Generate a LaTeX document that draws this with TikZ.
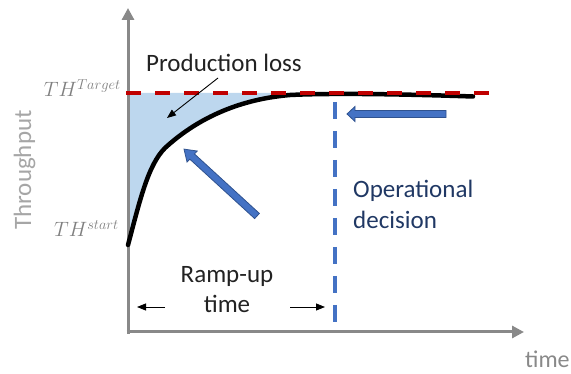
\documentclass[tikz,border=0pt]{standalone}
\usepackage{fontspec}
\setmainfont{Carlito}
\usetikzlibrary{arrows.meta}

\definecolor{axisgray}{HTML}{898989}
\definecolor{labelgray}{HTML}{A6A6A6}
\definecolor{mathgray}{HTML}{808080}
\definecolor{targetred}{HTML}{C00000}
\definecolor{lossfill}{HTML}{BDD7EE}
\definecolor{accentblue}{HTML}{4472C4}
\definecolor{edgeblue}{HTML}{2F528F}
\definecolor{navytext}{HTML}{203864}
\definecolor{inktext}{HTML}{222222}

\tikzset{
  axisline/.style={draw=axisgray, line width=3pt, -{Triangle[width=12pt,length=12pt]}},
  txt/.style={inner sep=0pt, font=\fontsize{25}{30}\selectfont},
  mathlabel/.style={inner sep=0pt, text=mathgray, font=\fontsize{22}{26}\selectfont, anchor=base east},
  thinarrow/.style={draw=black, line width=0.9pt, -{Triangle[width=7pt,length=9pt]}},
  blockarrow/.style={fill=accentblue, draw=edgeblue, line width=0.8pt, line join=miter},
  throughputcurve/.style={draw=black, line width=4.5pt, line cap=round},
  targetline/.style={draw=targetred, line width=4pt, dash pattern=on 15pt off 14pt},
  decisionline/.style={draw=accentblue, line width=3.5pt, dash pattern=on 17pt off 12pt}
}

\begin{document}
\begin{tikzpicture}[x=1pt, y=-1pt]
\useasboundingbox (0,0) rectangle (571,374);

% axes
\coordinate (origin) at (128,332);
\coordinate (ytop) at (128,8);
\coordinate (xend) at (524,332);
\coordinate (ybottom) at (128,334);
\coordinate (xstart) at (126.5,332);

% production loss area
\fill[lossfill] (128,93) -- (128,245)
  .. controls (140,200) and (148,165) .. (165,148)
  .. controls (190,125) and (230,100) .. (290,95)
  -- (330,93) -- cycle;

\draw[axisline] (ybottom) -- (ytop);
\draw[axisline] (xstart) -- (xend);

% ramp-up curve
\draw[throughputcurve] (128,245)
  .. controls (140,200) and (148,165) .. (165,148)
  .. controls (190,125) and (230,100) .. (290,95)
  .. controls (330,93) and (400,94) .. (473,96.5);

% target level
\coordinate (targetL) at (126,93);
\coordinate (targetR) at (491,93);
\draw[targetline] (targetL) -- (targetR);

% operational decision moment
\coordinate (decTop) at (335,102);
\coordinate (decBot) at (335,323);
\draw[decisionline] (decTop) -- (decBot);

% block arrows
\begin{scope}[shift={(257,216)}, rotate=137.5]
  \path[blockarrow] (0,-3.5) -- (88,-3.5) -- (88,-7.5) -- (99,0)
    -- (88,7.5) -- (88,3.5) -- (0,3.5) -- cycle;
\end{scope}
\begin{scope}[shift={(446,114)}, rotate=180]
  \path[blockarrow] (0,-3.5) -- (91,-3.5) -- (91,-7.5) -- (99,0)
    -- (91,7.5) -- (91,3.5) -- (0,3.5) -- cycle;
\end{scope}

% labels
\node[txt, text=inktext, anchor=base west] (loss) at (146,72) {Production loss};
\coordinate (lossTip) at (167,118);
\draw[thinarrow] (218,78) -- (lossTip);

\node[txt, text=inktext, anchor=north, align=center] (ramp) at (227,265.9)
  {Ramp-up\\time};
\coordinate (rampL) at (137,307);
\coordinate (rampR) at (325,307);
\draw[thinarrow] (165,307) -- (rampL);
\draw[thinarrow] (290,307) -- (rampR);

\node[txt, text=navytext, anchor=base west] (decision) at (353,198)
  {\fontsize{25}{31}\selectfont\begin{tabular}[t]{@{}l@{}}Operational\\decision\end{tabular}};

\node[txt, text=labelgray, rotate=90, anchor=base] (ylabel) at (31,170) {Throughput};
\node[txt, text=axisgray, anchor=base west, font=\fontsize{24}{28}\selectfont] (xlabel) at (525,368) {time};

\node[mathlabel] (thTarget) at (121,97) {$TH^{Target}$};
\node[mathlabel] (thStart) at (119,237) {$TH^{start}$};
\end{tikzpicture}
\end{document}
